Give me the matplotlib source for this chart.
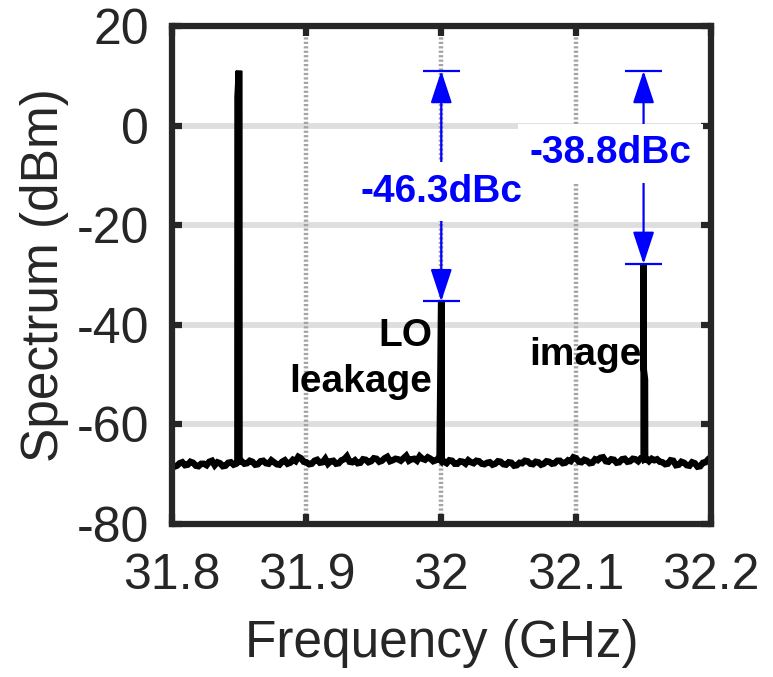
import numpy as np
import matplotlib
matplotlib.use("Agg")
import matplotlib.pyplot as plt

plt.rcParams['font.family'] = ['Liberation Sans', 'DejaVu Sans']
plt.rcParams['axes.unicode_minus'] = False

# ---- data -------------------------------------------------------------
# noise floor sampled every 2 MHz from 31.8 to 32.2 GHz (dBm)
floor_start_ghz = 31.8
floor_step_ghz = 0.002
floor_dbm = [
    -67.9, -68.5, -68.3, -67.8, -67.6, -68.2, -68.1, -67.5, -67.7, -68.3,
    -68.4, -67.9, -67.9, -68.2, -67.5, -67.3, -68.2, -67.6, -67.8, -68.4,
    -68.3, -67.7, -67.6, -68.1, -67.9, -67.6, -67.4, -67.9, -67.8, -67.3,
    -67.5, -68.1, -68.0, -67.4, -67.3, -67.8, -67.9, -67.2, -67.6, -68.0,
    -68.1, -67.5, -67.2, -67.9, -67.7, -67.1, -67.4, -66.5, -66.8, -67.5,
    -67.6, -68.0, -67.9, -67.3, -67.1, -67.7, -67.6, -66.9, -67.9, -67.4,
    -67.3, -67.9, -67.8, -67.2, -67.0, -66.4, -67.5, -67.6, -67.2, -67.8,
    -67.7, -67.0, -67.1, -67.6, -67.4, -66.8, -66.9, -67.5, -67.3, -66.8,
    -66.5, -67.4, -67.2, -66.9, -67.0, -67.3, -66.8, -66.3, -67.3, -67.0,
    -66.9, -67.3, -66.4, -66.9, -67.1, -66.6, -66.9, -67.4, -67.2, -66.8,
    -66.9, -67.5, -67.8, -67.2, -67.3, -67.9, -67.9, -67.4, -67.5, -67.9,
    -67.2, -67.6, -67.8, -67.3, -67.4, -67.9, -68.0, -67.7, -67.6, -68.1,
    -67.9, -67.4, -67.5, -68.0, -68.1, -67.6, -67.7, -68.3, -68.2, -67.7,
    -67.8, -67.3, -67.4, -67.9, -68.0, -67.5, -67.6, -68.1, -67.9, -67.4,
    -67.5, -67.9, -67.8, -67.3, -67.3, -67.8, -67.7, -67.2, -67.4, -66.6,
    -66.8, -67.5, -67.6, -67.1, -67.3, -67.8, -67.7, -67.0, -67.2, -66.7,
    -66.6, -67.4, -67.5, -67.0, -67.1, -67.7, -67.6, -67.0, -66.9, -67.5,
    -67.4, -66.9, -67.0, -67.4, -66.8, -66.7, -66.9, -67.4, -66.9, -67.2,
    -67.0, -67.5, -67.6, -68.0, -67.9, -67.2, -67.3, -68.2, -68.1, -67.5,
    -67.7, -68.2, -68.3, -67.6, -67.8, -68.5, -68.4, -67.7, -67.6, -67.0,
    -67.2,
]

# tone levels: carrier, LO leakage, image
carrier_dbm = 11.0
lo_dbc = -46.3
image_dbc = -38.8
lo_dbm = carrier_dbm + lo_dbc
image_dbm = carrier_dbm + image_dbc

carrier_freq = 31.85
lo_freq = 32.0
image_freq = 32.15

# samples around each tone (GHz, dBm)
tone_freq_ghz = [31.8488, 31.8489, 31.8499, 31.8501, 31.8502,
                 31.9987, 31.9988, 31.9999, 32.0001, 32.0002,
                 32.1499, 32.1500, 32.1502, 32.1511, 32.1512]
tone_dbm = [-67.7, 5.8, carrier_dbm, carrier_dbm, -67.5,
            -67.0, -63.5, lo_dbm, lo_dbm, -66.9,
            -66.8, image_dbm, -49.0, -51.0, -67.0]

xticks = [31.8, 31.9, 32.0, 32.1, 32.2]
xtick_labels = ['31.8', '31.9', '32', '32.1', '32.2']
yticks = [-80, -60, -40, -20, 0, 20]
ytick_labels = ['-80', '-60', '-40', '-20', '0', '20']

# ---- build trace ------------------------------------------------------
floor_freq = floor_start_ghz + floor_step_ghz * np.arange(len(floor_dbm))
freq = np.concatenate([floor_freq, tone_freq_ghz])
level = np.concatenate([floor_dbm, tone_dbm])
order = np.argsort(freq, kind='stable')
freq, level = freq[order], level[order]

# ---- figure -----------------------------------------------------------
dark = '#262626'
fig = plt.figure(figsize=(7.73, 6.77), dpi=100)
ax = fig.add_axes([0.2219, 0.2260, 0.6979, 0.7356])
ax.set_xlim(31.8, 32.2)
ax.set_ylim(-80, 20)

# grid
for yv in [0, -20, -40, -60]:
    ax.axhline(yv, color='#dedede', lw=4.2, zorder=1)
for xv in [31.9, 32.0, 32.1]:
    ax.axvline(xv, color='#a4a4a4', lw=3.2, ls=(0, (0.5, 0.5)), zorder=1.5)

ax.plot(freq, level, color='black', lw=4.6, zorder=3,
        solid_joinstyle='miter', solid_capstyle='butt')

# dBc annotations
half_bar = 0.0137
blue = '#0000ff'
for xf, top, bottom in [(lo_freq, carrier_dbm, lo_dbm),
                        (image_freq, carrier_dbm, image_dbm)]:
    ax.annotate('', xy=(xf, top), xytext=(xf, bottom),
                arrowprops=dict(arrowstyle='<|-|>,head_length=1.0,head_width=0.33',
                                mutation_scale=20, lw=1.6, color=blue,
                                shrinkA=0, shrinkB=0),
                zorder=4)
    for yv in (top, bottom):
        ax.plot([xf - half_bar, xf + half_bar], [yv, yv], color=blue,
                lw=1.6, zorder=4, solid_capstyle='butt')

box = dict(boxstyle='square,pad=0.3', fc='white', ec='none')
ax.text(32.0, -15.3, f'{lo_dbc:.1f}dBc', color=blue, fontsize=28,
        fontweight='bold', ha='center', va='baseline', bbox=box, zorder=5)
ax.text(32.1255, -7.6, f'{image_dbc:.1f}dBc', color=blue, fontsize=28,
        fontweight='bold', ha='center', va='baseline', bbox=box, zorder=5)

ax.text(31.9931, -44.3, 'LO', fontsize=28, fontweight='bold',
        ha='right', va='baseline', zorder=5)
ax.text(31.9931, -53.5, 'leakage', fontsize=28, fontweight='bold',
        ha='right', va='baseline', zorder=5)
ax.text(32.1489, -48.1, 'image', fontsize=28, fontweight='bold',
        ha='right', va='baseline', zorder=5)

# axes styling
for sp in ax.spines.values():
    sp.set_linewidth(4.5)
    sp.set_color(dark)
    sp.set_zorder(6)
ax.set_xticks(xticks)
ax.set_xticklabels(xtick_labels)
ax.set_yticks(yticks)
ax.set_yticklabels(ytick_labels)
ax.tick_params(direction='in', length=7, width=4.5, color=dark,
               labelcolor=dark, labelsize=36, top=True, right=True)
ax.tick_params(axis='x', pad=21)
ax.tick_params(axis='y', pad=16)

fig.text(0.0582, 0.594, 'Spectrum (dBm)', rotation=90, ha='center',
         va='center', fontsize=37, color=dark)
fig.text(0.5712, 0.0502, 'Frequency (GHz)', ha='center', va='center',
         fontsize=37, color=dark)

fig.savefig('out.png', dpi=100)
